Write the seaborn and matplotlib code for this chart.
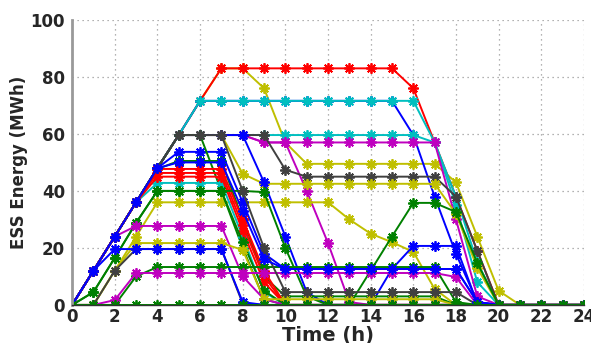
import numpy as np
import pandas as pd
import matplotlib
matplotlib.use("Agg")
import matplotlib.pyplot as plt
import seaborn as sns

# hours of the day
hours = list(range(25))

# ESS energy (MWh) per storage unit
red_83 = [0, 12, 24, 36, 48, 59.6, 71.6, 83, 83, 83, 83, 83, 83, 83, 83, 83, 76, 57, 38, 19, 0, 0, 0, 0, 0]
yellow_83 = [0, 12, 24, 36, 48, 59.6, 71.6, 83, 83, 76, 57, 49.5, 49.5, 49.5, 49.5, 49.5, 49.5, 49.5, 43, 24, 5, 0, 0, 0, 0]
cyan_72 = [0, 12, 24, 36, 48, 59.6, 71.6, 71.6, 71.6, 71.6, 71.6, 71.6, 71.6, 71.6, 71.6, 71.6, 71.6, 57, 38, 15, 0, 0, 0, 0, 0]
blue_72 = [0, 12, 24, 36, 48, 59.6, 71.6, 71.6, 71.6, 71.6, 71.6, 71.6, 71.6, 71.6, 71.6, 71.6, 59.6, 38, 18, 1, 0, 0, 0, 0, 0]
magenta_57 = [0, 12, 24, 36, 48, 59.6, 59.6, 59.6, 59.6, 57, 57, 57, 57, 57, 57, 57, 57, 57, 30, 3, 0, 0, 0, 0, 0]
magenta_drop = [0, 12, 24, 36, 48, 59.6, 59.6, 59.6, 59.6, 57, 57, 40, 21.7, 1, 0, 0, 0, 0, 0, 0, 0, 0, 0, 0, 0]
cyan_60 = [0, 12, 24, 36, 48, 59.6, 59.6, 59.6, 59.6, 59.6, 59.6, 59.6, 59.6, 59.6, 59.6, 59.6, 59.6, 57, 35, 8, 0, 0, 0, 0, 0]
grey_45 = [0, 12, 24, 36, 48, 59.6, 59.6, 59.6, 59.6, 59.6, 47.4, 45, 45, 45, 45, 45, 45, 45, 38, 19, 0, 0, 0, 0, 0]
yellow_42 = [0, 12, 24, 36, 48, 59.6, 59.6, 59.6, 46, 42.5, 42.5, 42.5, 42.5, 42.5, 42.5, 42.5, 42.5, 42.5, 32, 13, 0, 0, 0, 0, 0]
yellow_36 = [0, 0, 12, 24, 36, 36, 36, 36, 36, 36, 36, 36, 36, 30, 25, 22, 18.6, 5.6, 0, 0, 0, 0, 0, 0, 0]
blue_60 = [0, 12, 24, 36, 48, 59.6, 59.6, 59.6, 59.6, 43, 24, 4.5, 0, 0, 0, 12.6, 20.7, 20.7, 20.7, 0.5, 0, 0, 0, 0, 0]
blue_54 = [0, 12, 24, 36, 48, 53.7, 53.7, 53.7, 36, 18, 12.6, 12.6, 12.6, 12.6, 12.6, 12.6, 12.6, 12.6, 12.6, 1, 0, 0, 0, 0, 0]
green_50 = [0, 12, 24, 36, 47.7, 50.5, 50.5, 50.5, 30, 10, 3, 3, 3, 3, 3, 3, 3, 3, 0, 0, 0, 0, 0, 0, 0]
green_60 = [0, 12, 24, 36, 48, 59.6, 59.6, 40, 20, 2, 0, 0, 0, 0, 0, 0, 0, 0, 0, 0, 0, 0, 0, 0, 0]
red_48 = [0, 12, 24, 36, 47.7, 47.7, 47.7, 47.7, 30, 12, 0, 0, 0, 0, 0, 0, 0, 0, 0, 0, 0, 0, 0, 0, 0]
red_46 = [0, 12, 24, 36, 46.3, 46.3, 46.3, 46.3, 28, 10, 0, 0, 0, 0, 0, 0, 0, 0, 0, 0, 0, 0, 0, 0, 0]
red_45 = [0, 12, 24, 36, 45, 45, 45, 45, 26, 8, 0, 0, 0, 0, 0, 0, 0, 0, 0, 0, 0, 0, 0, 0, 0]
cyan_43 = [0, 12, 24, 36, 42.8, 42.8, 42.8, 42.8, 24, 4.5, 0, 0, 0, 0, 0, 0, 0, 0, 0, 0, 0, 0, 0, 0, 0]
green_40 = [0, 4.5, 16.5, 28.8, 40, 40, 40, 40, 40, 39.6, 20, 3, 0, 0, 12, 24, 35.8, 35.8, 32.6, 14.7, 0, 0, 0, 0, 0]
green_40b = [0, 4.5, 16.5, 28.8, 40, 40, 40, 40, 22, 5, 0, 0, 0, 0, 0, 0, 0, 0, 0, 0, 0, 0, 0, 0, 0]
magenta_28 = [0, 12, 24, 27.7, 27.7, 27.7, 27.7, 27.7, 10, 2, 0, 0, 0, 0, 0, 0, 0, 0, 0, 0, 0, 0, 0, 0, 0]
yellow_22 = [0, 0, 12, 21.7, 21.7, 21.7, 21.7, 21.7, 19.3, 2, 2, 2, 2, 2, 2, 2, 2, 2, 0, 0, 0, 0, 0, 0, 0]
grey_20 = [0, 0, 12, 19.6, 19.6, 19.6, 19.6, 19.6, 0.5, 0, 0, 0, 0, 0, 0, 0, 0, 0, 0, 0, 0, 0, 0, 0, 0]
blue_20 = [0, 12, 19.6, 19.6, 19.6, 19.6, 19.6, 19.6, 1, 0, 0, 0, 0, 0, 0, 0, 0, 0, 0, 0, 0, 0, 0, 0, 0]
green_13 = [0, 0, 0, 10, 13.3, 13.3, 13.3, 13.3, 13.3, 13.3, 13.3, 13.3, 13.3, 13.3, 13.3, 13.3, 13.3, 13.3, 1, 0, 0, 0, 0, 0, 0]
magenta_11 = [0, 0, 1.7, 11.2, 11.2, 11.2, 11.2, 11.2, 11.2, 11.2, 11.2, 11.2, 11.2, 11.2, 11.2, 11.2, 11.2, 11.2, 9.8, 0, 0, 0, 0, 0, 0]
grey_5 = [0, 12, 24, 36, 48, 59.6, 59.6, 59.6, 40, 20, 4.5, 4.5, 4.5, 4.5, 4.5, 4.5, 4.5, 4.5, 4.5, 0, 0, 0, 0, 0, 0]
blue_13 = [0, 12, 24, 36, 48, 50, 50, 50, 33, 16, 12.6, 12.6, 12.6, 12.6, 12.6, 12.6, 12.6, 12.6, 12.6, 1, 0, 0, 0, 0, 0]
green_0 = [0, 0, 0, 0, 0, 0, 0, 0, 0, 0, 0, 0, 0, 0, 0, 0, 0, 0, 0, 0, 0, 0, 0, 0, 0]

# MATLAB-ish line colours
B, G, R, C, M, Y, K = "#0000ff", "#008000", "#ff0000", "#00bfbf", "#bf00bf", "#bfbf00", "#404040"

series = [
    ("yellow_83", yellow_83, Y), ("red_83", red_83, R), ("blue_72", blue_72, B), ("cyan_72", cyan_72, C),
    ("magenta_drop", magenta_drop, M), ("cyan_60", cyan_60, C), ("magenta_57", magenta_57, M),
    ("grey_45", grey_45, K), ("yellow_42", yellow_42, Y), ("yellow_36", yellow_36, Y),
    ("blue_60", blue_60, B), ("blue_54", blue_54, B), ("green_50", green_50, G), ("green_60", green_60, G),
    ("cyan_43", cyan_43, C), ("red_48", red_48, R), ("red_46", red_46, R), ("red_45", red_45, R),
    ("green_40", green_40, G), ("green_40b", green_40b, G), ("magenta_28", magenta_28, M),
    ("yellow_22", yellow_22, Y), ("grey_20", grey_20, K), ("blue_20", blue_20, B),
    ("green_13", green_13, G), ("magenta_11", magenta_11, M), ("grey_5", grey_5, K),
    ("blue_13", blue_13, B), ("green_0", green_0, G),
]

rows = []
for name, vals, col in series:
    for h, v in zip(hours, vals):
        rows.append((name, h, v))
df = pd.DataFrame(rows, columns=["unit", "hour", "energy"])
palette = {name: col for name, _, col in series}
order = [name for name, _, _ in series]

sns.set_style("white")
plt.rcParams["font.family"] = ["DejaVu Sans"]
plt.rcParams["font.weight"] = "bold"

fig = plt.figure(figsize=(5.91, 3.43), dpi=100)
ax = fig.add_axes([0.122, 0.111, 0.866, 0.831])

sns.lineplot(data=df, x="hour", y="energy", hue="unit", hue_order=order, palette=palette,
             marker=(8, 2, 0), markersize=7.5, linewidth=1.4, legend=False, ax=ax,
             errorbar=None, estimator=None, sort=False)
for ln in ax.lines:
    ln.set_markeredgecolor(ln.get_color())
    ln.set_markeredgewidth(1.3)

ax.set_xlim(0, 24)
ax.set_ylim(0, 100)
ax.set_xticks(range(0, 25, 2))
ax.set_yticks(range(0, 101, 20))
ax.grid(True, linestyle=(0, (1, 3)), color="#999999", linewidth=0.9)
ax.tick_params(axis="x", length=0, labelsize=12, pad=2)
ax.tick_params(axis="y", length=0, labelsize=12, pad=5)
for lab in ax.get_xticklabels() + ax.get_yticklabels():
    lab.set_fontweight("bold")
ax.set_xlabel("Time (h)", fontsize=14, fontweight="bold", labelpad=0)
ax.set_ylabel("ESS Energy (MWh)", fontsize=12, fontweight="bold", labelpad=2)

for side in ["top", "right"]:
    ax.spines[side].set_visible(False)
ax.spines["left"].set_color("#999999")
ax.spines["left"].set_linewidth(2)
ax.spines["bottom"].set_color("#333333")
ax.spines["bottom"].set_linewidth(1)

fig.savefig("out.png", dpi=100)
